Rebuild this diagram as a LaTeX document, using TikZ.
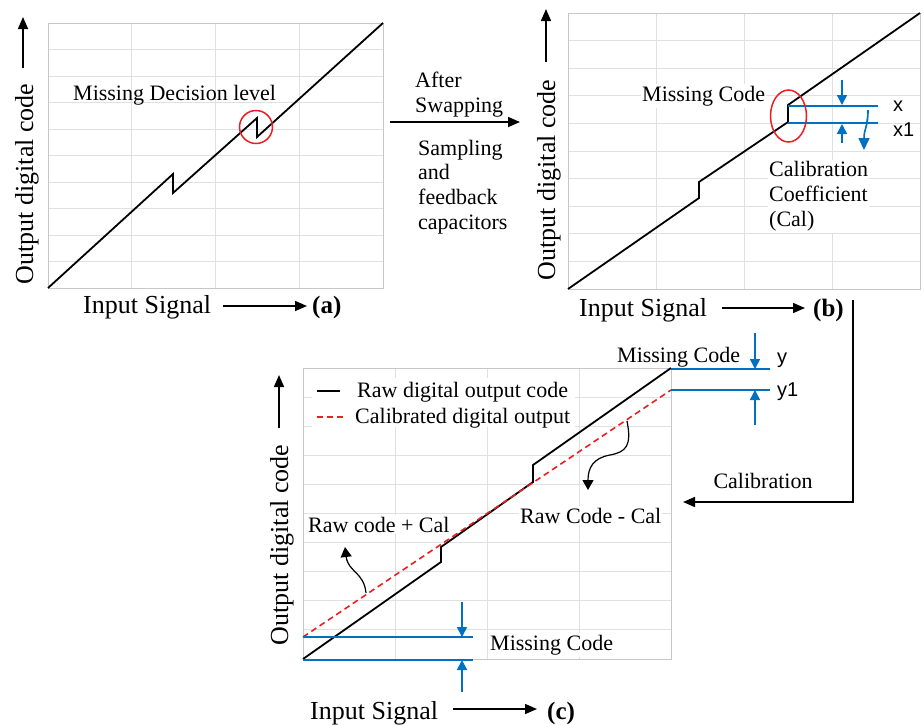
\documentclass[tikz,border=0pt]{standalone}
\usepackage{fontspec}
\setmainfont{Liberation Serif}
\newfontfamily\sansfam{Liberation Sans}
\usetikzlibrary{arrows.meta}
\definecolor{calblue}{RGB}{0,112,192}
\definecolor{calred}{RGB}{235,30,35}
\tikzset{
  gridl/.style={draw=black!12, line width=1pt},
  framel/.style={draw=black!22, line width=1pt},
  curve/.style={draw=black, line width=1.8pt, line join=miter},
  calib/.style={draw=calred, line width=1.6pt, dash pattern=on 6pt off 4pt},
  redmark/.style={draw=calred, line width=1.5pt},
  blueline/.style={draw=calblue, line width=1.8pt},
  bluearrow/.style={draw=calblue, line width=1.6pt, -{Triangle[length=10pt,width=10pt]}, fill=calblue},
  axarrow/.style={draw=black, line width=1.5pt, -{Triangle[length=12pt,width=10pt]}},
  curlarrow/.style={draw=black, line width=1.2pt, -{Triangle[length=10pt,width=11pt]}},
  lbl/.style={font=\fontsize{22}{24.6}\selectfont, inner sep=0pt},
  filllbl/.style={lbl, fill=white, inner xsep=1pt, inner ysep=2pt},
  axlbl/.style={font=\fontsize{26}{28}\selectfont, inner sep=0pt},
  taglbl/.style={font=\bfseries\fontsize{25}{28}\selectfont, inner sep=0pt},
  sanslbl/.style={font=\sansfam\fontsize{20}{22}\selectfont, inner sep=0pt},
}
% plot area with 4 columns and 10 rows of light grid lines
\newcommand\drawgridpanel[4]{%
  \foreach \k in {1,2,3}
    \draw[gridl] ({#1+\k*(#3-#1)/4},#2) -- ({#1+\k*(#3-#1)/4},#4);
  \foreach \k in {1,...,9}
    \draw[gridl] (#1,{#2+\k*(#4-#2)/10}) -- (#3,{#2+\k*(#4-#2)/10});
  \draw[framel] (#1,#2) rectangle (#3,#4);}
\begin{document}
\begin{tikzpicture}[x=1pt, y=-1pt]
\fill[white] (0,0) rectangle (924,724);
\path[use as bounding box] (0,0) rectangle (924,724);

% ---------------- (a) transfer curve with missing decision level
\drawgridpanel{48}{23}{383}{288}
\node[lbl, anchor=base west] (mdl) at (73,100) {Missing Decision level};
\draw[curve] (48,288) -- (173,174) -- (173,193) -- (257,118) -- (257,137) -- (383,23);
\draw[redmark] (256,127) circle[radius=16.5pt];
\node[axlbl, rotate=90, anchor=base] (ya) at (33,184) {Output digital code};
\coordinate (yaS) at (23,68);
\coordinate (yaT) at (23,17);
\draw[axarrow] (yaS) -- (yaT);
\node[axlbl, anchor=base west] (xa) at (83,313) {Input Signal};
\node[taglbl, anchor=base west] (ta) at (312,313) {(a)};
\coordinate (xaS) at (223,306);
\coordinate (xaT) at (307,306);
\draw[axarrow] (xaS) -- (xaT);

% ---------------- swapping step between (a) and (b)
% (base anchor of a multi-line node = baseline of its last line)
\coordinate (swS) at (390,122);
\coordinate (swT) at (520,122);
\draw[axarrow] (swS) -- (swT);
\node[lbl, anchor=base west, align=left] (sw1) at (415,112) {After\\Swapping};
\node[lbl, anchor=base west, align=left] (sw2) at (418,229) {Sampling\\and\\feedback\\capacitors};

% ---------------- (b) transfer curve with missing code
\drawgridpanel{568}{13}{920}{289}
\node[filllbl, anchor=base west] (mcb) at (641,101) {Missing Code};
\node[filllbl, anchor=base west, align=left] (ccb) at (768,226) {Calibration\\Coefficient\\(Cal)};
\draw[curve] (568,289) -- (699,198) -- (699,182) -- (788,122) -- (788,105) -- (920,13);
\draw[blueline] (788,106) -- (878,106);
\draw[blueline] (788,123) -- (878,123);
\draw[redmark] (788.5,116) ellipse[x radius=18pt, y radius=26pt];
\coordinate (bd1) at (842,80);  \coordinate (bd2) at (842,105);
\coordinate (bu1) at (842,143); \coordinate (bu2) at (842,124);
\draw[bluearrow] (bd1) -- (bd2);
\draw[bluearrow] (bu1) -- (bu2);
\coordinate (bc1) at (868,110); \coordinate (bc2) at (864,150);
\draw[bluearrow, -{Triangle[length=12pt,width=11pt]}] (bc1) .. controls (868,128) and (864,128) .. (bc2);
\node[sanslbl, anchor=west] (lx) at (893,106) {x};
\node[sanslbl, anchor=west] (lx1) at (893,130) {x1};
\node[axlbl, rotate=90, anchor=base] (yb) at (555,180) {Output digital code};
\coordinate (ybS) at (546,62);
\coordinate (ybT) at (546,9);
\draw[axarrow] (ybS) -- (ybT);
\node[axlbl, anchor=base west] (xb) at (579,316) {Input Signal};
\node[taglbl, anchor=base west] (tb) at (813,316) {(b)};
\coordinate (xbS) at (722,308);
\coordinate (xbT) at (805,308);
\draw[axarrow] (xbS) -- (xbT);

% ---------------- calibration path from (b) to (c)
\coordinate (cS) at (853,300);
\coordinate (cT) at (683,502);
\draw[axarrow] (cS) |- (cT);
\node[lbl, anchor=base] (calt) at (763,488) {Calibration};

% ---------------- (c) raw and calibrated output codes
\drawgridpanel{303}{368}{671}{659}
\fill[white] (312,378) rectangle (575,427);
\node[lbl, anchor=base west] (lg1) at (357,397) {Raw digital output code};
\node[lbl, anchor=base west] (lg2) at (355,423) {Calibrated digital output};
\draw[curve] (317,391) -- (340,391);
\draw[calib] (317,417) -- (343,417);
\node[filllbl, anchor=base west] (rpc) at (307,532) {Raw code + Cal};
\node[filllbl, anchor=base west] (rmc) at (519,523) {Raw Code - Cal};
\node[filllbl, anchor=base west] (mcc) at (489,650) {Missing Code};
\node[lbl, anchor=base west] (mct) at (617,362) {Missing Code};
\draw[curve] (303,659) -- (441,562) -- (441,547) -- (533,482) -- (533,465) -- (671,368);
\draw[calib] (303,637) -- (671,390);
\draw[blueline] (303,637) -- (473,637);
\draw[blueline] (303,660) -- (473,660);
\coordinate (cd1) at (462,602); \coordinate (cd2) at (462,637);
\coordinate (cu1) at (462,692); \coordinate (cu2) at (462,660);
\draw[bluearrow] (cd1) -- (cd2);
\draw[bluearrow] (cu1) -- (cu2);
\draw[blueline] (671,369) -- (770,369);
\draw[blueline] (671,390) -- (770,390);
\coordinate (td1) at (755,333); \coordinate (td2) at (755,369);
\coordinate (tu1) at (755,425); \coordinate (tu2) at (755,390);
\draw[bluearrow] (td1) -- (td2);
\draw[bluearrow] (tu1) -- (tu2);
\node[sanslbl, anchor=west] (ly) at (777,360) {y};
\node[sanslbl, anchor=west] (ly1) at (777,392) {y1};
% curved pointers from the dashed line to their labels
\coordinate (pa1) at (366,593); \coordinate (pa2) at (345,547);
\draw[curlarrow] (pa1) .. controls (364,572) and (348,572) .. (pa2);
\coordinate (pb1) at (627,421); \coordinate (pb2) at (588,490);
\draw[curlarrow] (pb1) .. controls (632,446) and (626,452) .. (610,455)
                 .. controls (593,458) and (588,468) .. (pb2);
\node[axlbl, rotate=90, anchor=base] (yc) at (288,545) {Output digital code};
\coordinate (ycS) at (279,428);
\coordinate (ycT) at (279,375);
\draw[axarrow] (ycS) -- (ycT);
\node[axlbl, anchor=base west] (xc) at (310,719) {Input Signal};
\node[taglbl, anchor=base west] (tc) at (547,719) {(c)};
\coordinate (xcS) at (453,709);
\coordinate (xcT) at (537,709);
\draw[axarrow] (xcS) -- (xcT);
\end{tikzpicture}
\end{document}
